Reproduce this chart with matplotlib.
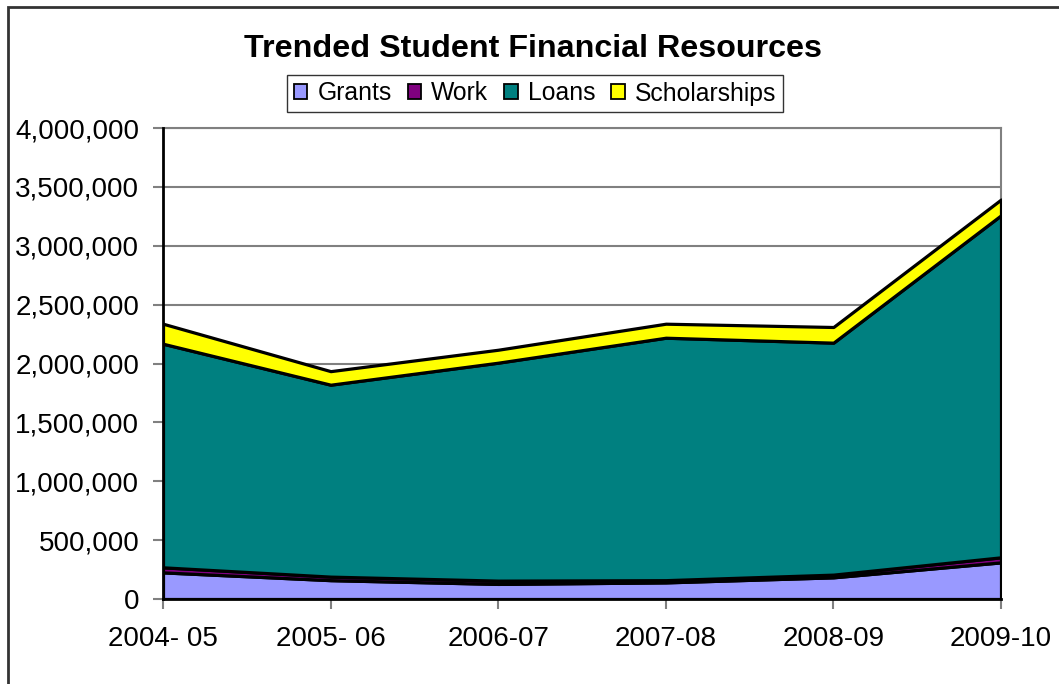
import numpy as np
import matplotlib
matplotlib.use("Agg")
import matplotlib.pyplot as plt
from matplotlib.patches import Rectangle, Patch
from matplotlib.ticker import FuncFormatter

years = ["2004- 05", "2005- 06", "2006-07", "2007-08", "2008-09", "2009-10"]
grants = [226000, 160000, 128000, 141000, 184000, 311000]
work = [43000, 30000, 28000, 19000, 23000, 43000]
loans = [1899000, 1630000, 1851000, 2059000, 1970000, 2905000]
scholarships = [170000, 115000, 110000, 119000, 133000, 134000]

labels = ["Grants", "Work", "Loans", "Scholarships"]
colors = ["#9999FF", "#800080", "#008080", "#FFFF00"]

plt.rcParams['font.family'] = ['Liberation Sans', 'DejaVu Sans']

W, H = 1059, 684
fig = plt.figure(figsize=(W / 100, H / 100), dpi=100)
ax = fig.add_axes([163 / W, 1 - 599 / H, (1001 - 163) / W, (599 - 128) / H])

x = np.arange(len(years))
ax.stackplot(x, grants, work, loans, scholarships, colors=colors,
             edgecolor="black", linewidth=2.3, zorder=3)

ax.set_xlim(0, len(years) - 1)
ax.set_ylim(0, 4000000)
ax.set_yticks(np.arange(0, 4000001, 500000))
ax.yaxis.set_major_formatter(FuncFormatter(lambda v, p: f"{int(v):,}"))
ax.set_xticks(x)
ax.set_xticklabels(years)
ax.grid(axis="y", color="#808080", linewidth=1.5, zorder=0)

for s in ["left", "bottom"]:
    ax.spines[s].set_color("black")
    ax.spines[s].set_linewidth(2)
    ax.spines[s].set_zorder(5)
for s in ["right", "top"]:
    ax.spines[s].set_color("#808080")
    ax.spines[s].set_linewidth(1.5)
ax.tick_params(axis="y", length=7.2, width=1.5, color="#808080", pad=10, labelsize=20)
ax.tick_params(axis="x", length=7.2, width=1.5, color="#808080", pad=12, labelsize=20)

fig.text(533 / W, 1 - 49 / H, "Trended Student Financial Resources",
         ha="center", va="center", fontsize=23.2, fontweight="bold")

handles = [Patch(facecolor=c, edgecolor="black", linewidth=1.3) for c in colors]
leg = fig.legend(handles, labels, loc="center", bbox_to_anchor=(535 / W, 1 - 93.5 / H),
                 ncol=4, fontsize=17.8, frameon=True, fancybox=False,
                 handlelength=0.55, handleheight=0.55, handletextpad=0.4,
                 columnspacing=0.65, borderpad=0.28, borderaxespad=0)
leg.get_frame().set_edgecolor("black")
leg.get_frame().set_linewidth(1)

fig.patches.append(Rectangle((8 / W, -0.1), 1.2, 1.1 - 7 / H, transform=fig.transFigure,
                             fill=False, edgecolor="#333333", linewidth=2))

fig.savefig("out.png", dpi=100)
